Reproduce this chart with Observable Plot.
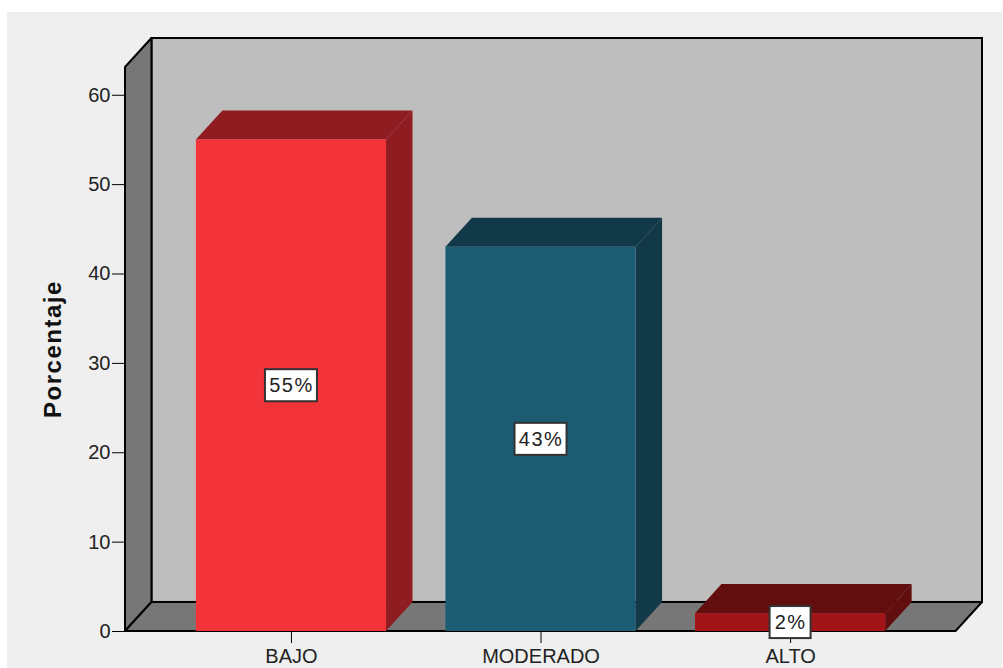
<!DOCTYPE html>
<html lang="es">
<head>
<meta charset="utf-8">
<script src="https://cdn.jsdelivr.net/npm/d3@7"></script>
<script src="https://cdn.jsdelivr.net/npm/@observablehq/plot@0.6"></script>
<style>
  html, body { margin: 0; background: #fff; overflow: hidden; }
  #panel { position: absolute; left: 7px; top: 12px; width: 995px; height: 656px; background: #efefef; }
  #panel svg { display: block; background: transparent; }
  [aria-label="text"] { letter-spacing: 1.5px; }
</style>
</head>
<body>
<div id="panel"></div>
<script>
const categories = ["BAJO", "MODERADO", "ALTO"];
const percentages = [55, 43, 2];
const yTicks = [0, 10, 20, 30, 40, 50, 60];
const yTitle = "Porcentaje";
const frontColors = ["#f23339", "#1b5c73", "#a11417"];
const sideColors = ["#8e1c20", "#113947", "#620d0e"];

// Extrusion and layout of the box, in scale units.
const barWidth = 0.762;
const depthX = 0.106;
const depthY = 3.25;
const xStart = -0.665;
const xEnd = 2.663;
const yTop = 63.1;
const yTitleCenter = 31.6;
const pxX = 1 / 249.5;
const pxY = 1 / 8.93;

const bars = categories.map((name, i) => ({
  name,
  value: percentages[i],
  label: `${percentages[i]}%`,
  x1: i - barWidth / 2,
  x2: i + barWidth / 2,
  front: frontColors[i],
  side: sideColors[i]
}));

// A face slanted along the depth direction: its ends slide by (depthX, depthY).
const slant = (x1, x2, y1, y2) => [0, 1].map((t) => ({
  x1: x1 + t * depthX, x2: x2 + t * depthX,
  y1: y1 + t * depthY, y2: y2 + t * depthY,
  x: x1 + t * depthX
}));

const wallStroke = { stroke: "#000", strokeWidth: 2 };

const barFaces = bars.flatMap((b) => [
  Plot.areaX(slant(b.x1, b.x2, b.value, b.value), { x1: "x1", x2: "x2", y: "y1", fill: b.side }),
  Plot.areaY(slant(b.x2, b.x2, 0, b.value), { x: "x", y1: "y1", y2: "y2", fill: b.side })
]);

const chart = Plot.plot({
  width: 995,
  height: 656,
  marginLeft: 118,
  marginRight: 20,
  marginTop: 26,
  marginBottom: 37,
  style: { fontFamily: "'Liberation Sans', Arial, sans-serif", fontSize: "20px", color: "#222" },
  x: { domain: [xStart, xEnd + depthX] },
  y: { domain: [0, yTop + depthY] },
  marks: [
    // Back wall, left wall and floor of the box
    Plot.rect([{}], { x1: xStart + depthX, x2: xEnd + depthX, y1: depthY, y2: yTop + depthY, fill: "#bebebe", ...wallStroke }),
    Plot.areaY(slant(xStart, xStart, 0, yTop), { x: "x", y1: "y1", y2: "y2", fill: "#777", ...wallStroke }),
    Plot.areaX(slant(xStart, xEnd, 0, 0), { x1: "x1", x2: "x2", y: "y1", fill: "#777", ...wallStroke }),

    Plot.axisY({
      ticks: yTicks, tickSize: 13, tickPadding: 2, stroke: "#000", fontSize: 20, label: null
    }),
    Plot.axisX({
      ticks: [0, 1, 2], tickFormat: (i) => categories[i], tickSize: 12, tickPadding: 5,
      stroke: "#000", fontSize: 20, label: null
    }),

    // Axis title, rotated beside the tick labels
    Plot.text([yTitle], {
      x: xStart, y: yTitleCenter, text: (d) => d, rotate: -90, dx: -72,
      fontSize: 24, fontWeight: 700, fill: "#111"
    }),

    // Extruded bars
    ...barFaces,
    Plot.rect(bars, { x1: "x1", x2: "x2", y1: 0, y2: "value", fill: "front" }),

    // Value labels in white boxes
    Plot.rect(bars, {
      x1: (d, i) => i - (d.label.length * 11 + 19) / 2 * pxX,
      x2: (d, i) => i + (d.label.length * 11 + 19) / 2 * pxX,
      y1: (d) => d.value / 2 - 16 * pxY,
      y2: (d) => d.value / 2 + 16 * pxY,
      fill: "#fff", stroke: "#333", strokeWidth: 2
    }),
    Plot.text(bars, {
      x: (d, i) => i, y: (d) => d.value / 2, text: "label",
      fontSize: 20, fill: "#222"
    })
  ]
});

document.getElementById("panel").append(chart);
</script>
</body>
</html>
